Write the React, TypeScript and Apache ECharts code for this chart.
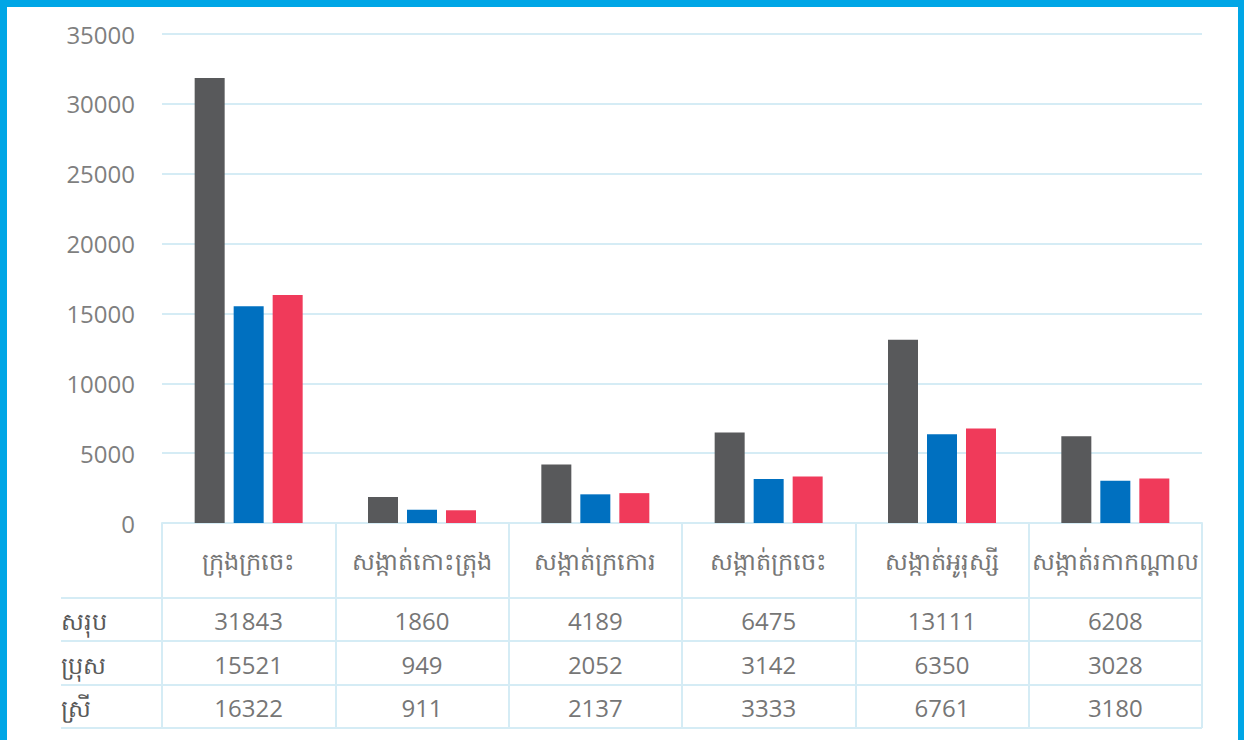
import React, { useEffect, useRef } from "react";
import * as echarts from "echarts";

const categories = ["ក្រុងក្រចេះ", "សង្កាត់កោះត្រុង", "សង្កាត់ក្រកោរ", "សង្កាត់ក្រចេះ", "សង្កាត់អូរុស្សី", "សង្កាត់រកាកណ្តាល"];
const rowNames = ["សរុប", "ប្រុស", "ស្រី"];
const totalValues = [31843, 1860, 4189, 6475, 13111, 6208];
const maleValues = [15521, 949, 2052, 3142, 6350, 3028];
const femaleValues = [16322, 911, 2137, 3333, 6761, 3180];
const yTicks = { min: 0, max: 35000, interval: 5000 };

const FONT = "'Open Sans', 'Noto Sans', sans-serif";
const LINE = "#d5ecf5";
const seriesColors = ["#58595b", "#0070c0", "#f03a5a"];

export default function App() {
  const ref = useRef<HTMLDivElement>(null);
  useEffect(() => {
    document.body.style.margin = "0";
    const chart = echarts.init(ref.current!, undefined, { renderer: "svg" });
    const rows = [totalValues, maleValues, femaleValues];
    const rowCenters = [620, 664, 707];
    const rowLines = [598, 641, 685, 728];
    const valueAxes = rows.map((vals, i) => ({
      type: "category",
      gridIndex: 0,
      position: "bottom",
      data: vals.map((v) => String(v)),
      axisLine: { show: false },
      axisTick: { show: false },
      axisLabel: {
        interval: 0,
        margin: rowCenters[i] - 523,
        verticalAlign: "middle",
        color: "#767676",
        fontSize: 24,
        fontFamily: FONT,
      },
    }));
    chart.setOption({
      animation: false,
      grid: { left: 162, right: 42, top: 34, bottom: 217, containLabel: false },
      xAxis: [
        {
          type: "category",
          data: categories,
          axisLine: { show: true, lineStyle: { color: LINE, width: 2 } },
          axisTick: { show: true, length: 205, lineStyle: { color: LINE, width: 2 } },
          axisLabel: {
            interval: 0,
            margin: 37,
            verticalAlign: "middle",
            color: "#767676",
            fontSize: 24,
            fontFamily: FONT,
          },
        },
        ...valueAxes,
      ],
      yAxis: {
        type: "value",
        min: yTicks.min,
        max: yTicks.max,
        interval: yTicks.interval,
        axisLine: { show: false },
        axisTick: { show: false },
        splitLine: { lineStyle: { color: LINE, width: 2 } },
        axisLabel: {
          margin: 27,
          color: "#7f7f7f",
          fontSize: 24,
          fontFamily: FONT,
          formatter: (v: number) => String(v),
        },
      },
      series: rows.map((vals, i) => ({
        type: "bar",
        name: rowNames[i],
        xAxisIndex: 0,
        data: vals,
        barWidth: 30,
        barGap: "30%",
        itemStyle: { color: seriesColors[i] },
      })),
      graphic: [
        ...rowLines.map((y) => ({
          type: "line",
          shape: { x1: 61, y1: y, x2: 1202, y2: y },
          style: { stroke: LINE, lineWidth: 2 },
        })),
        ...rowNames.map((n, i) => ({
          type: "text",
          x: 61,
          y: rowCenters[i],
          style: {
            text: n,
            fill: "#595959",
            fontSize: 24,
            fontFamily: FONT,
            textVerticalAlign: "middle",
            textAlign: "left",
          },
        })),
        { type: "rect", shape: { x: 0, y: 0, width: 1244, height: 7 }, style: { fill: "#00a6e6" } },
        { type: "rect", shape: { x: 0, y: 0, width: 7, height: 740 }, style: { fill: "#00a6e6" } },
        { type: "rect", shape: { x: 1238, y: 0, width: 6, height: 740 }, style: { fill: "#00a6e6" } },
      ],
    });
    return () => chart.dispose();
  }, []);
  return <div ref={ref} style={{ width: 1244, height: 740 }} />;
}
